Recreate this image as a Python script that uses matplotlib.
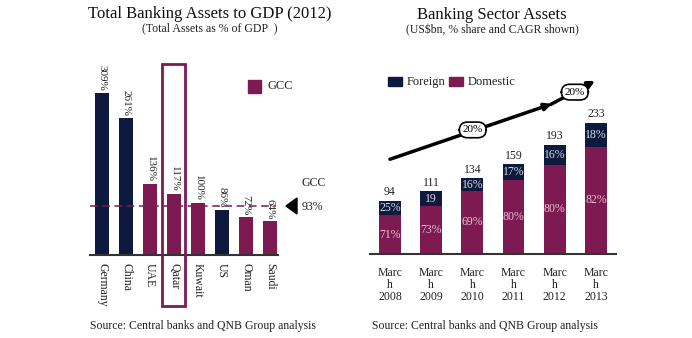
import matplotlib.pyplot as plt
from matplotlib.patches import Rectangle

plt.rcParams['font.family'] = ['Liberation Serif', 'DejaVu Serif']

# left chart data
countries = ['Germany', 'China', 'UAE', 'Qatar', 'Kuwait', 'US', 'Oman', 'Saudi']
assets_gdp = [309, 261, 136, 117, 100, 86, 72, 64]
is_gcc = [False, False, True, True, True, False, True, True]
gcc_avg = 93

# right chart data
years = ['2008', '2009', '2010', '2011', '2012', '2013']
totals = [94, 111, 134, 159, 193, 233]
domestic = [69, 85, 112, 131, 158, 190]
foreign_lbl = ['25%', '19', '16%', '17%', '16%', '18%']
domestic_lbl = ['71%', '73%', '69%', '80%', '80%', '82%']
cagr_lbl = ['20%', '20%']

NAVY = '#0e1a3d'
MAROON = '#7c1a51'
TXT = '#222222'

W, H = 692, 338
fig = plt.figure(figsize=(W / 100, H / 100), dpi=100)


def fx(x):
    return x / W


def fy(y):
    return 1 - y / H


# ---------- left chart ----------
axl = fig.add_axes([fx(90), fy(255), fx(188), (255 - 55) / H])
xs = list(range(len(countries)))
cols = [MAROON if g else NAVY for g in is_gcc]
axl.bar(xs, assets_gdp, width=0.58, color=cols)
axl.set_xlim(-0.5, 7.33)
axl.set_ylim(0, (255 - 55) / 0.524)
for x, v in zip(xs, assets_gdp):
    axl.text(x, v + 4, f'{v}%', rotation=-90, ha='center', va='bottom',
             fontsize=8, color=TXT)
axl.set_xticks(xs)
axl.set_xticklabels(countries, rotation=-90, fontsize=8.5, color=TXT)
axl.tick_params(axis='x', length=0, pad=6)
axl.set_yticks([])
for s in ['top', 'right', 'left']:
    axl.spines[s].set_visible(False)
axl.spines['bottom'].set_color('#333333')
axl.spines['bottom'].set_linewidth(1.5)
axl.axhline(gcc_avg, xmin=0, xmax=0.99, color=MAROON, ls=(0, (5, 3)), lw=1.1)
# highlight box around Qatar
q = countries.index('Qatar')
axl.add_patch(Rectangle((q - 0.5, -97), 0.96, 97 + 364.5, fill=False,
                        edgecolor=MAROON, lw=2, clip_on=False, zorder=5))
# legend GCC
axl.add_patch(Rectangle((6.08, 310), 0.55, 24, color=MAROON, clip_on=False))
axl.text(6.9, 322, 'GCC', fontsize=9, va='center', color=TXT)
fig.text(fx(302), fy(183), 'GCC', fontsize=8.5, va='center', color=TXT)
fig.text(fx(302), fy(207), f'{gcc_avg}%', fontsize=8.5, va='center', color=TXT)
fig.patches.append(plt.Polygon([(fx(286), fy(206)), (fx(297), fy(198)), (fx(297), fy(214))],
                               closed=True, color='black', transform=fig.transFigure))

fig.text(fx(210), fy(14), 'Total Banking Assets to GDP (2012)', fontsize=12,
         ha='center', va='center', color='#111111')
fig.text(fx(210), fy(28), '(Total Assets as % of GDP  )', fontsize=8.5,
         ha='center', va='center', color=TXT)
fig.text(fx(203), fy(326), 'Source: Central banks and QNB Group analysis',
         fontsize=8.5, ha='center', va='center', color=TXT)

# ---------- right chart ----------
axr = fig.add_axes([fx(370), fy(254), fx(246), (254 - 60) / H])
xr = list(range(len(years)))
foreign = [t - d for t, d in zip(totals, domestic)]
axr.bar(xr, domestic, width=0.53, color=MAROON)
axr.bar(xr, foreign, width=0.53, bottom=domestic, color=NAVY)
axr.set_xlim(-0.485, 5.49)
axr.set_ylim(0, (254 - 60) / 0.564)
for x, t, d, fl, dl in zip(xr, totals, domestic, foreign_lbl, domestic_lbl):
    axr.text(x, t + 5, str(t), ha='center', va='bottom', fontsize=8.5, color=TXT)
    axr.text(x, d + (t - d) / 2, fl, ha='center', va='center', fontsize=8.5,
             color='#d6dae6')
    axr.text(x, d / 2, dl, ha='center', va='center', fontsize=8.5, color='#e6c3d6')
axr.set_xticks(xr)
axr.set_xticklabels([f'Marc\nh\n{y}' for y in years], fontsize=8.5,
                    color=TXT, linespacing=1.05)
axr.tick_params(axis='x', length=0, pad=9)
axr.set_yticks([])
for s in ['top', 'right', 'left']:
    axr.spines[s].set_visible(False)
axr.spines['bottom'].set_color('#333333')
axr.spines['bottom'].set_linewidth(1.5)

# CAGR arrow
axr.annotate('', xy=(3.93, 266), xytext=(0, 168),
             arrowprops=dict(arrowstyle='-|>', lw=2.5, color='black',
                             mutation_scale=10, shrinkA=0, shrinkB=0),
             annotation_clip=False)
axr.annotate('', xy=(4.98, 307), xytext=(3.9, 265),
             arrowprops=dict(arrowstyle='-|>', lw=2.5, color='black',
                             mutation_scale=10, shrinkA=0, shrinkB=0),
             annotation_clip=False)
for (cx, cy), lbl in zip([(2.01, 220), (4.49, 287)], cagr_lbl):
    axr.text(cx, cy, lbl, ha='center', va='center', fontsize=8, color='black',
             bbox=dict(boxstyle='round,pad=0.3,rounding_size=0.75', fc='white',
                       ec='black', lw=1.2),
             zorder=6)

# legend
axr.add_patch(Rectangle((-0.04, 297), 0.34, 16, color=NAVY, clip_on=False))
axr.text(0.4, 305, 'Foreign', fontsize=9, va='center', color=TXT)
axr.add_patch(Rectangle((1.44, 297), 0.34, 16, color=MAROON, clip_on=False))
axr.text(1.88, 305, 'Domestic', fontsize=9, va='center', color=TXT)

fig.text(fx(492), fy(15), 'Banking Sector Assets', fontsize=12,
         ha='center', va='center', color='#111111')
fig.text(fx(492), fy(30), '(US$bn, % share and CAGR shown)', fontsize=8.5,
         ha='center', va='center', color=TXT)
fig.text(fx(485), fy(326), 'Source: Central banks and QNB Group analysis',
         fontsize=8.5, ha='center', va='center', color=TXT)

fig.savefig('out.png', dpi=100)
